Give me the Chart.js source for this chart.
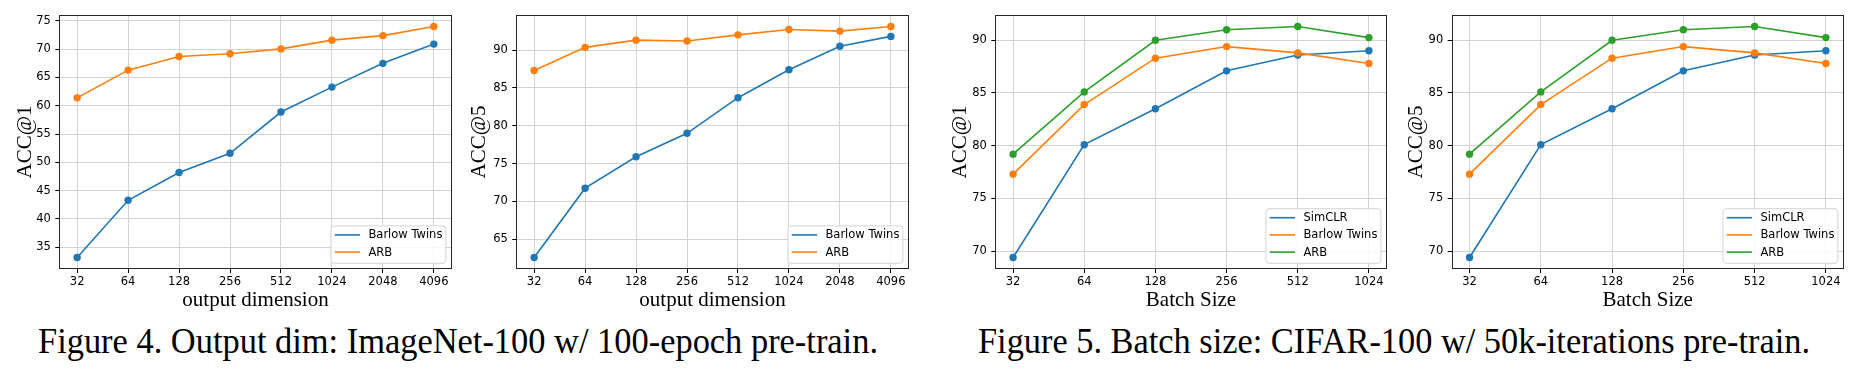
<!DOCTYPE html>
<html>
<head>
<meta charset="utf-8">
<script src="https://cdn.jsdelivr.net/npm/chart.js@4.4.0/dist/chart.umd.min.js"></script>
<style>
html,body{margin:0;padding:0;background:#fff;width:1855px;height:370px;overflow:hidden;position:relative;}
.panel{position:absolute;top:0;height:320px;}
.cap{position:absolute;font-family:"Liberation Serif","Times New Roman",serif;font-size:36px;line-height:36px;white-space:nowrap;color:#000;transform-origin:0 0;}
</style>
</head>
<body>
<div class="panel" style="left:0px;width:460px"><canvas id="c1" width="460" height="320"></canvas></div>
<div class="panel" style="left:462px;width:453px"><canvas id="c2" width="453" height="320"></canvas></div>
<div class="panel" style="left:930px;width:462px"><canvas id="c3" width="462" height="320"></canvas></div>
<div class="panel" style="left:1392px;width:463px"><canvas id="c4" width="463" height="320"></canvas></div>
<div class="cap" id="cap4" style="left:38px;top:323px">Figure 4. Output dim: ImageNet-100 w/ 100-epoch pre-train.</div>
<div class="cap" id="cap5" style="left:978px;top:323px">Figure 5. Batch size: CIFAR-100 w/ 50k-iterations pre-train.</div>
<script>
// ---------- data ----------
const dimCategories = ['32', '64', '128', '256', '512', '1024', '2048', '4096'];
const batchCategories = ['32', '64', '128', '256', '512', '1024'];

const fig4Acc1BarlowTwins = [33.2, 43.3, 48.2, 51.6, 58.9, 63.3, 67.5, 70.9];
const fig4Acc1ARB         = [61.4, 66.3, 68.7, 69.2, 70.05, 71.6, 72.4, 74.0];

const fig4Acc5BarlowTwins = [62.6, 71.75, 75.9, 79.0, 83.7, 87.4, 90.5, 91.8];
const fig4Acc5ARB         = [87.3, 90.35, 91.3, 91.2, 92.0, 92.7, 92.5, 93.1];

const fig5Acc1SimCLR      = [69.4, 80.1, 83.5, 87.1, 88.6, 89.0];
const fig5Acc1BarlowTwins = [77.3, 83.9, 88.3, 89.4, 88.8, 87.8];
const fig5Acc1ARB         = [79.2, 85.1, 90.0, 91.0, 91.3, 90.25];

const fig5Acc5SimCLR      = [69.4, 80.1, 83.5, 87.1, 88.6, 89.0];
const fig5Acc5BarlowTwins = [77.3, 83.9, 88.3, 89.4, 88.8, 87.8];
const fig5Acc5ARB         = [79.2, 85.1, 90.0, 91.0, 91.3, 90.25];

const fig4Acc1Ticks = [35, 40, 45, 50, 55, 60, 65, 70, 75];
const fig4Acc5Ticks = [65, 70, 75, 80, 85, 90];
const fig5Ticks     = [70, 75, 80, 85, 90];

const tab10 = ['#1f77b4', '#ff7f0e', '#2ca02c'];

// ---------- plugins ----------
const framePlugin = {
  id: 'frame',
  afterDatasetsDraw(chart) {
    const a = chart.chartArea, ctx = chart.ctx;
    ctx.save();
    ctx.strokeStyle = '#262626';
    ctx.lineWidth = 1;
    const l = Math.round(a.left) + 0.5, t = Math.round(a.top) + 0.5;
    const r = Math.round(a.right) - 0.5, b = Math.round(a.bottom) - 0.5;
    ctx.strokeRect(l, t, r - l, b - t);
    ctx.restore();
  }
};

const mplLegend = {
  id: 'mplLegend',
  afterDraw(chart) {
    const ctx = chart.ctx, a = chart.chartArea;
    const ds = chart.data.datasets.slice().sort((p, q) => p.legendIndex - q.legendIndex);
    ctx.save();
    ctx.font = '11.5px "DejaVu Sans"';
    const maxW = Math.max(...ds.map(d => ctx.measureText(d.label).width));
    const rowH = 17.2;
    const boxW = 38 + maxW + 3;
    const boxH = ds.length * rowH + 3;
    const right = a.right - 6.3, bottom = a.bottom - 6.2;
    const left = right - boxW, top = bottom - boxH;
    ctx.beginPath();
    ctx.roundRect(left + 0.5, top + 0.5, boxW, boxH, 3);
    ctx.fillStyle = 'rgba(255,255,255,0.85)';
    ctx.fill();
    ctx.strokeStyle = '#d4d4d4';
    ctx.lineWidth = 1;
    ctx.stroke();
    ds.forEach((d, i) => {
      const y = top + 9.5 + i * rowH;
      ctx.beginPath();
      ctx.moveTo(left + 4.3, y);
      ctx.lineTo(left + 29.6, y);
      ctx.strokeStyle = d.borderColor;
      ctx.lineWidth = 1.6;
      ctx.stroke();
      ctx.fillStyle = '#000';
      ctx.textBaseline = 'middle';
      ctx.textAlign = 'left';
      ctx.fillText(d.label, left + 38, y + 0.5);
    });
    ctx.restore();
  }
};

// ---------- chart builder ----------
function makeChart(id, cfg) {
  const n = cfg.categories.length;
  const xm = 0.05 * (n - 1);
  const all = cfg.series.flatMap(s => s.data);
  const lo = Math.min(...all), hi = Math.max(...all);
  const ym = 0.05 * (hi - lo);
  const TITLE_LH = 21 * 1.2;
  const datasets = cfg.series.map((s, i) => ({
    label: s.label,
    data: s.data.map((v, k) => ({ x: k, y: v })),
    borderColor: tab10[i],
    backgroundColor: tab10[i],
    pointBackgroundColor: tab10[i],
    borderWidth: 1.6,
    pointRadius: 3.7,
    pointBorderWidth: 0,
    pointHoverRadius: 3.7,
    tension: 0,
    order: cfg.series.length - i,
    legendIndex: i
  }));
  const tickFont = { family: 'DejaVu Sans', size: 11.5 };
  const titleFont = { family: 'Liberation Serif', size: 21, lineHeight: 1.2 };
  new Chart(document.getElementById(id), {
    type: 'line',
    data: { datasets },
    plugins: [framePlugin, mplLegend],
    options: {
      responsive: false,
      animation: false,
      events: [],
      layout: { padding: { top: 15, right: cfg.padRight, bottom: 0, left: 0 } },
      plugins: { legend: { display: false }, tooltip: { enabled: false } },
      scales: {
        x: {
          type: 'linear',
          min: -xm,
          max: n - 1 + xm,
          afterBuildTicks: s => { s.ticks = cfg.categories.map((_, k) => ({ value: k })); },
          afterFit: s => { s.height = 51; },
          ticks: {
            autoSkip: false, maxRotation: 0, minRotation: 0,
            font: tickFont, color: '#000', padding: 2,
            callback: v => cfg.categories[Math.round(v)]
          },
          grid: { color: '#d3d3d3', lineWidth: 1, tickLength: 4, tickColor: '#000', tickWidth: 1 },
          border: { display: false },
          title: { display: true, text: cfg.xTitle, font: titleFont, color: '#000', padding: { top: 0, bottom: 7 } }
        },
        y: {
          type: 'linear',
          min: lo - ym,
          max: hi + ym,
          afterBuildTicks: s => { s.ticks = cfg.yTicks.map(v => ({ value: v })); },
          afterFit: s => { s.width = cfg.yw; },
          ticks: { font: tickFont, color: '#000', padding: 4.5, callback: v => String(v) },
          grid: { color: '#d3d3d3', lineWidth: 1, tickLength: 4, tickColor: '#000', tickWidth: 1 },
          border: { display: false },
          title: { display: true, text: cfg.yTitle, font: titleFont, color: '#000', padding: { top: cfg.titleOff - TITLE_LH / 2, bottom: 0 } }
        }
      }
    }
  });
}

makeChart('c1', {
  yw: 59.3, padRight: 8.3, titleOff: 25,
  categories: dimCategories, yTicks: fig4Acc1Ticks,
  xTitle: 'output dimension', yTitle: 'ACC@1',
  series: [{ label: 'Barlow Twins', data: fig4Acc1BarlowTwins }, { label: 'ARB', data: fig4Acc1ARB }]
});
makeChart('c2', {
  yw: 54.3, padRight: 6.3, titleOff: 17,
  categories: dimCategories, yTicks: fig4Acc5Ticks,
  xTitle: 'output dimension', yTitle: 'ACC@5',
  series: [{ label: 'Barlow Twins', data: fig4Acc5BarlowTwins }, { label: 'ARB', data: fig4Acc5ARB }]
});
makeChart('c3', {
  yw: 65.3, padRight: 5.3, titleOff: 30,
  categories: batchCategories, yTicks: fig5Ticks,
  xTitle: 'Batch Size', yTitle: 'ACC@1',
  series: [{ label: 'SimCLR', data: fig5Acc1SimCLR }, { label: 'Barlow Twins', data: fig5Acc1BarlowTwins }, { label: 'ARB', data: fig5Acc1ARB }]
});
makeChart('c4', {
  yw: 59.7, padRight: 11.3, titleOff: 24.7,
  categories: batchCategories, yTicks: fig5Ticks,
  xTitle: 'Batch Size', yTitle: 'ACC@5',
  series: [{ label: 'SimCLR', data: fig5Acc5SimCLR }, { label: 'Barlow Twins', data: fig5Acc5BarlowTwins }, { label: 'ARB', data: fig5Acc5ARB }]
});

function fitCaption(id, width) {
  const el = document.getElementById(id);
  const natural = el.getBoundingClientRect().width;
  el.style.transform = 'scaleX(' + (width / natural) + ')';
}
fitCaption('cap4', 840);
fitCaption('cap5', 832);
</script>
</body>
</html>
